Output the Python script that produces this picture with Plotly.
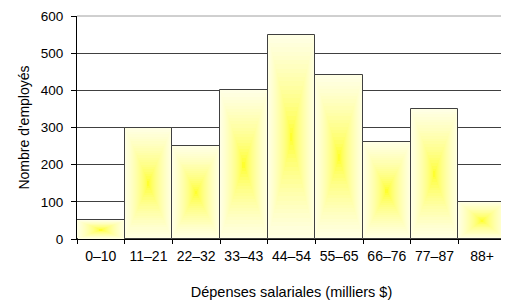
import plotly.graph_objects as go

categories = ["0\u201310", "11\u201321", "22\u201332", "33\u201343", "44\u201354",
              "55\u201365", "66\u201376", "77\u201387", "88+"]
employees = [50, 300, 250, 400, 550, 440, 260, 350, 100]
y_ticks = [0, 100, 200, 300, 400, 500, 600]

fig = go.Figure()

# Centre gradient approximated by nested overlay bars
N = 24
for i in range(N):
    f = 1 - i / N
    blue = int(round(228 * f ** 0.5))
    color = f"rgb(255,255,{blue})"
    bases = [v / 2 * (1 - f) for v in employees]
    heights = [v * f for v in employees]
    fig.add_trace(go.Bar(
        x=categories, y=heights, base=bases, width=f,
        marker=dict(color=color,
                    line=dict(color="#404040", width=1 if i == 0 else 0)),
        showlegend=False, hoverinfo="skip",
    ))

# the page body adds an 8px margin, so the figure is shifted accordingly
fig.update_layout(
    width=501, height=297,
    margin=dict(l=69, r=3, t=8, b=66, autoexpand=False),
    paper_bgcolor="white", plot_bgcolor="white",
    barmode="overlay", bargap=0,
    font=dict(family="Liberation Sans, Arial, sans-serif", size=14, color="#000"),
    xaxis=dict(
        type="category", tickson="boundaries", ticks="outside", ticklen=4,
        tickcolor="#000", showline=True, linecolor="#000", linewidth=1,
        showgrid=False, automargin=False, tickfont=dict(size=14),
        tickangle=0, ticklabelstandoff=4, ticklabeloverflow="allow",
        title=dict(text="Dépenses salariales (milliers $)",
                   font=dict(size=14.5), standoff=24),
        range=[-0.5, len(categories) - 0.5],
    ),
    yaxis=dict(
        range=[0, 600], tickvals=y_ticks, ticks="outside", ticklen=5,
        tickcolor="#000", showline=True, linecolor="#000", linewidth=1,
        showgrid=True, gridcolor="#404040", gridwidth=1, zeroline=False,
        automargin=False, tickfont=dict(size=13.5), ticklabelstandoff=5,
        ticklabeloverflow="allow",
        title=dict(text="Nombre d'employés", font=dict(size=14), standoff=7),
    ),
    shapes=[
        dict(type="line", xref="paper", yref="paper", x0=0, x1=1, y0=1, y1=1,
             line=dict(color="#a0a0a0", width=1)),
        dict(type="line", xref="paper", yref="paper", x0=1, x1=1, y0=0, y1=1,
             line=dict(color="#a0a0a0", width=1)),
    ],
)

fig.write_html("out.html")
